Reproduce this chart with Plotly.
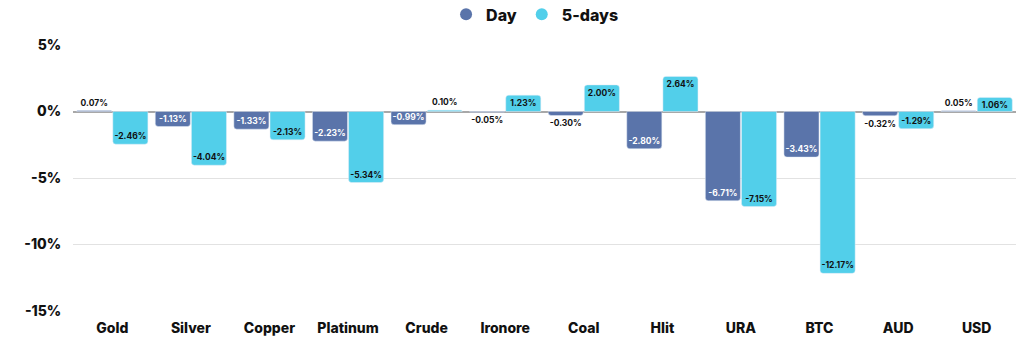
import plotly.graph_objects as go

categories = ["Gold", "Silver", "Copper", "Platinum", "Crude", "Ironore", "Coal", "Hlit", "URA", "BTC", "AUD", "USD"]
day_values = [0.07, -1.13, -1.33, -2.23, -0.99, -0.05, -0.30, -2.80, -6.71, -3.43, -0.32, 0.05]
five_day_values = [-2.46, -4.04, -2.13, -5.34, 0.10, 1.23, 2.00, 2.64, -7.15, -12.17, -1.29, 1.06]
y_tick_vals = [5, 0, -5, -10, -15]
y_tick_text = ["5%", "0%", "-5%", "-10%", "-15%"]

DAY_COLOR = "#5a74aa"
FIVE_COLOR = "#52cfea"
FONT = "Inter"

def positions(vals, threshold=0.6):
    return ["outside" if abs(v) < threshold else "inside" for v in vals]

def labels(vals):
    return [f"{v:.2f}%" for v in vals]

fig = go.Figure()
fig.add_trace(go.Bar(
    x=categories, y=day_values, name="Day", marker_color=DAY_COLOR,
    text=labels(day_values), textposition=positions(day_values),
    insidetextanchor="end", constraintext="none", textangle=0,
    insidetextfont=dict(color="white", size=8.5, family=FONT, weight=700),
    outsidetextfont=dict(color="#111", size=8.5, family=FONT, weight=700),
    showlegend=False, cliponaxis=False,
))
fig.add_trace(go.Bar(
    x=categories, y=five_day_values, name="5-days", marker_color=FIVE_COLOR,
    text=labels(five_day_values), textposition=positions(five_day_values),
    insidetextanchor="end", constraintext="none", textangle=0,
    insidetextfont=dict(color="#111", size=8.5, family=FONT, weight=700),
    outsidetextfont=dict(color="#111", size=8.5, family=FONT, weight=700),
    showlegend=False, cliponaxis=False,
))
# legend entries with circle markers
fig.add_trace(go.Scatter(x=[None], y=[None], mode="markers", name="Day",
                         marker=dict(color=DAY_COLOR, size=15, symbol="circle")))
fig.add_trace(go.Scatter(x=[None], y=[None], mode="markers", name="5-days",
                         marker=dict(color=FIVE_COLOR, size=15, symbol="circle")))

fig.update_layout(
    width=1024, height=351,
    margin=dict(l=73, r=8, t=45, b=40, autoexpand=False),
    paper_bgcolor="white", plot_bgcolor="white",
    barmode="group", bargap=0.08, bargroupgap=0.03,
    barcornerradius=3,
    font=dict(family=FONT, color="#111"),
    legend=dict(orientation="h", x=0.49, xanchor="center", y=1.115, yanchor="middle",
                yref="paper", font=dict(size=16, family=FONT, weight=800),
                itemsizing="constant", itemwidth=30, tracegroupgap=0),
    xaxis=dict(showgrid=False, showline=False, ticks="outside", ticklen=4,
               tickcolor="rgba(0,0,0,0)",
               tickfont=dict(size=14, family=FONT, weight=800, color="#111")),
    yaxis=dict(range=[-15, 5], tickvals=y_tick_vals, ticktext=y_tick_text,
               showgrid=True, gridcolor="#e2e2e2", gridwidth=1.2,
               zeroline=True, zerolinecolor="#a8a8a8", zerolinewidth=1.5,
               ticks="outside", ticklen=8, tickcolor="rgba(0,0,0,0)",
               tickfont=dict(size=14, family=FONT, weight=800, color="#111")),
)
fig.write_html("out.html")
